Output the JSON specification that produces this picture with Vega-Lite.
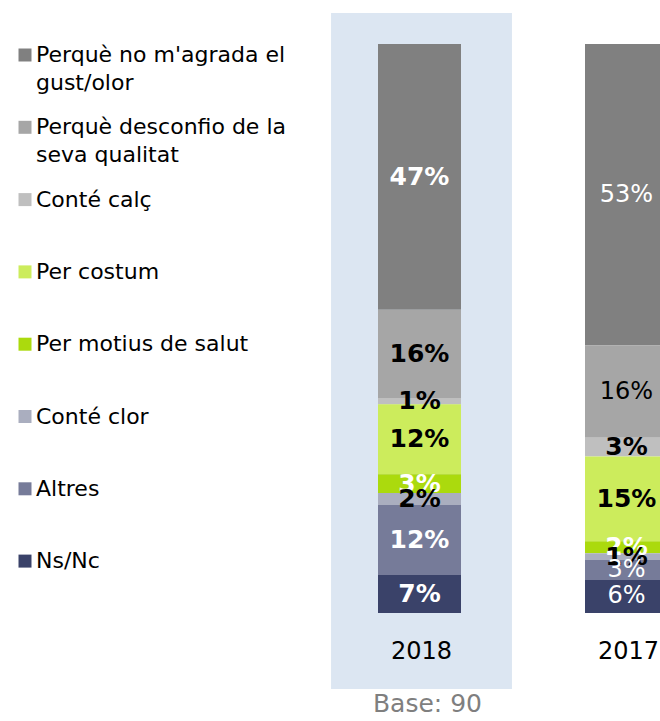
{
  "$schema": "https://vega.github.io/schema/vega-lite/v6.json",
  "autosize": {"type": "none"},
  "padding": {"left": 318, "top": 44, "right": 0, "bottom": 108},
  "width": 342,
  "height": 569,
  "background": "white",
  "config": {"view": {"stroke": null}, "font": "DejaVu Sans"},
  "data": {"values": [
    {"year": "2018", "cat": "Perquè no m'agrada el gust/olor", "idx": 1, "value": 46.7, "label": "47%"},
    {"year": "2018", "cat": "Perquè desconfio de la seva qualitat", "idx": 2, "value": 15.5, "label": "16%"},
    {"year": "2018", "cat": "Conté calç", "idx": 3, "value": 1.1, "label": "1%"},
    {"year": "2018", "cat": "Per costum", "idx": 4, "value": 12.3, "label": "12%"},
    {"year": "2018", "cat": "Per motius de salut", "idx": 5, "value": 3.3, "label": "3%"},
    {"year": "2018", "cat": "Conté clor", "idx": 6, "value": 2.1, "label": "2%"},
    {"year": "2018", "cat": "Altres", "idx": 7, "value": 12.3, "label": "12%"},
    {"year": "2018", "cat": "Ns/Nc", "idx": 8, "value": 6.7, "label": "7%"},
    {"year": "2017", "cat": "Perquè no m'agrada el gust/olor", "idx": 1, "value": 53.0, "label": "53%"},
    {"year": "2017", "cat": "Perquè desconfio de la seva qualitat", "idx": 2, "value": 16.2, "label": "16%"},
    {"year": "2017", "cat": "Conté calç", "idx": 3, "value": 3.3, "label": "3%"},
    {"year": "2017", "cat": "Per costum", "idx": 4, "value": 14.9, "label": "15%"},
    {"year": "2017", "cat": "Per motius de salut", "idx": 5, "value": 2.1, "label": "2%"},
    {"year": "2017", "cat": "Conté clor", "idx": 6, "value": 1.2, "label": "1%"},
    {"year": "2017", "cat": "Altres", "idx": 7, "value": 3.5, "label": "3%"},
    {"year": "2017", "cat": "Ns/Nc", "idx": 8, "value": 5.8, "label": "6%"}
  ]},
  "layer": [
    {
      "data": {"values": [{"bg": 1}]},
      "mark": {"type": "rect", "color": "#DCE6F2"},
      "encoding": {
        "x": {"datum": "2018", "type": "nominal"},
        "y": {"datum": 105.45, "type": "quantitative"},
        "y2": {"datum": -13.36}
      }
    },
    {
      "transform": [
        {"stack": "value", "groupby": ["year"], "sort": [{"field": "idx", "order": "descending"}], "as": ["v0", "v1"]},
        {"calculate": "(datum.v0 + datum.v1) / 2", "as": "mid"}
      ],
      "layer": [
        {
          "mark": {"type": "bar", "width": 83, "xOffset": -2},
          "encoding": {
            "x": {
              "field": "year", "type": "nominal",
              "scale": {"domain": ["2018", "2017"], "range": [0, 414], "paddingInner": 0.126, "paddingOuter": 0.063},
              "axis": {"title": null, "domain": false, "ticks": false, "labelAngle": 0, "labelAlign": "center", "labelFont": "DejaVu Sans", "labelFontSize": 24, "labelColor": "black", "labelPadding": 38}
            },
            "y": {"field": "v0", "type": "quantitative", "scale": {"domain": [0, 100], "nice": false}, "axis": null},
            "y2": {"field": "v1"},
            "color": {
              "field": "cat", "type": "nominal",
              "scale": {
                "domain": ["Perquè no m'agrada el gust/olor", "Perquè desconfio de la seva qualitat", "Conté calç", "Per costum", "Per motius de salut", "Conté clor", "Altres", "Ns/Nc"],
                "range": ["#808080", "#A6A6A6", "#BFBFBF", "#CCEC5C", "#ABDA0D", "#AAAEBF", "#767B99", "#3A4269"]
              },
              "legend": {
                "orient": "none", "legendX": -304, "legendY": 0,
                "title": null, "direction": "vertical", "columns": 1,
                "symbolType": "square", "symbolSize": 169, "symbolStrokeWidth": 0, "symbolOpacity": 1,
                "labelFont": "DejaVu Sans", "labelFontSize": 22, "labelColor": "black", "labelLimit": 400,
                "labelOffset": 0, "labelLineHeight": 28, "labelBaseline": "top",
                "gridAlign": "all", "rowPadding": 22.3,
                "labelExpr": "datum.label == \"Perquè no m'agrada el gust/olor\" ? [\"Perquè no m'agrada el\", \"gust/olor\"] : datum.label == \"Perquè desconfio de la seva qualitat\" ? [\"Perquè desconfio de la\", \"seva qualitat\"] : datum.label",
                "encode": {"labels": {"update": {"dy": {"value": -10}, "lineHeight": {"value": 28}}}}
              }
            }
          }
        },
        {
          "transform": [{"filter": "datum.year == '2018' || indexof([3, 4, 5, 6], datum.idx) >= 0"}],
          "mark": {"type": "text", "font": "DejaVu Sans", "fontSize": 25, "fontWeight": "bold", "baseline": "middle", "xOffset": -2},
          "encoding": {
            "x": {"field": "year", "type": "nominal"},
            "y": {"field": "mid", "type": "quantitative"},
            "text": {"field": "label"},
            "color": {"condition": {"test": "indexof([1, 5, 7, 8], datum.idx) >= 0", "value": "white"}, "value": "black"}
          }
        },
        {
          "transform": [{"filter": "!(datum.year == '2018' || indexof([3, 4, 5, 6], datum.idx) >= 0)"}],
          "mark": {"type": "text", "font": "DejaVu Sans", "fontSize": 24, "baseline": "middle", "xOffset": -2},
          "encoding": {
            "x": {"field": "year", "type": "nominal"},
            "y": {"field": "mid", "type": "quantitative"},
            "text": {"field": "label"},
            "color": {"condition": {"test": "indexof([1, 5, 7, 8], datum.idx) >= 0", "value": "white"}, "value": "black"}
          }
        }
      ]
    },
    {
      "data": {"values": [{"note": "Base: 90"}]},
      "mark": {"type": "text", "font": "DejaVu Sans", "fontSize": 25, "color": "#7F7F7F", "baseline": "middle", "dx": 6},
      "encoding": {
        "x": {"datum": "2018", "type": "nominal"},
        "y": {"datum": -16, "type": "quantitative"},
        "text": {"field": "note"}
      }
    }
  ]
}
